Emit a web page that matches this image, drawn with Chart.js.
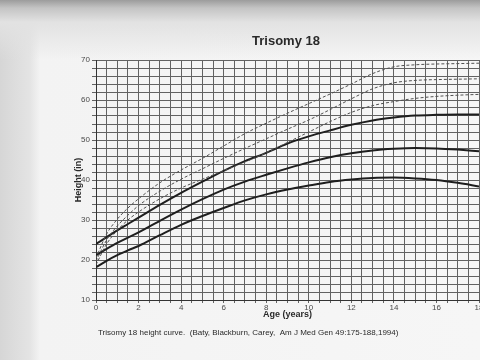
<!DOCTYPE html>
<html>
<head>
<meta charset="utf-8">
<script src="https://cdn.jsdelivr.net/npm/chart.js@4"></script>
<style>
    html, body {
        margin: 0;
        padding: 0;
    }
    body {
        width: 480px;
        height: 360px;
        overflow: hidden;
        background:
            linear-gradient(to bottom, #9c9c9c 0px, #c4c4c4 8px, #e2e2e2 22px, rgba(240,240,240,0) 60px),
            linear-gradient(to right, #d6d6d6 0px, #e4e4e4 30px, #f3f3f3 40px, #f6f6f6 100%);
    }
    #chart {
        display: block;
    }
</style>
</head>
<body>
<canvas id="chart" width="480" height="360"></canvas>
<script>
'use strict'

// age in years, heights in inches
let ages = [0, 0.5, 1, 1.5, 2, 3, 4, 5, 6, 7, 8, 9, 10, 11, 12, 13, 14, 15, 16, 17, 18],
    // trisomy 18 curves (solid)
    t18High = [24, 25.7, 27.4, 29, 30.6, 33.8, 36.8, 39.6, 42.3, 44.7, 46.8, 49.1, 50.9, 52.4, 53.8, 54.9, 55.6, 56.1, 56.3, 56.4, 56.4],
    t18Mid = [21.2, 22.8, 24.3, 25.6, 26.9, 29.8, 32.6, 35.2, 37.6, 39.6, 41.3, 42.9, 44.4, 45.7, 46.7, 47.4, 47.8, 48, 47.9, 47.6, 47.2],
    t18Low = [18.2, 19.8, 21.2, 22.4, 23.5, 26.2, 28.8, 31, 33, 34.9, 36.4, 37.6, 38.6, 39.5, 40.1, 40.5, 40.6, 40.4, 40, 39.3, 38.4],
    // normal reference curves (dashed)
    normHigh = [20.5, 26.5, 30.2, 33, 35.3, 39.3, 42.5, 45.4, 48.5, 51.6, 54.2, 56.7, 59.1, 61.5, 64, 66.6, 68.3, 68.8, 69, 69.1, 69.2],
    normMid = [19.7, 25, 28.5, 31.2, 33.6, 37.2, 40.2, 42.8, 45.4, 47.9, 50.3, 52.7, 55, 57.6, 60.3, 62.8, 64.3, 64.9, 65.1, 65.2, 65.3],
    normLow = [18.8, 24, 27.4, 30, 32, 35.3, 38, 40.2, 42.3, 44.5, 46.8, 49.4, 52, 54.6, 56.9, 58.6, 59.6, 60.4, 60.9, 61.2, 61.4],
    xLabelEvery = 2,
    yLabelEvery = 10,
    myChart

let fontFamily = "'Liberation Sans', Arial, sans-serif"
let gridColor = '#626262'

let points = function (values) {
    return values.map((v, i) => ({x: ages[i], y: v}))
}

let solid = function (values) {
    return {
        data: points(values),
        borderColor: '#1e1e1e',
        borderWidth: 2,
        pointRadius: 0,
        cubicInterpolationMode: 'monotone',
        fill: false
    }
}

let dashed = function (values) {
    return {
        data: points(values),
        borderColor: '#505050',
        borderWidth: 1,
        borderDash: [3, 2],
        pointRadius: 0,
        cubicInterpolationMode: 'monotone',
        fill: false
    }
}

// title and citation printed on the paper
let paperText = {
    id: 'paperText',
    afterDraw(chart) {
        let ctx = chart.ctx
        ctx.save()
        ctx.fillStyle = '#2a2a2a'
        ctx.textBaseline = 'middle'
        ctx.textAlign = 'center'
        ctx.font = 'bold 13px ' + fontFamily
        ctx.fillText('Trisomy 18', 286, 41)
        ctx.textAlign = 'left'
        ctx.font = '8px ' + fontFamily
        ctx.fillText('Trisomy 18 height curve.  (Baty, Blackburn, Carey,  Am J Med Gen 49:175-188,1994)', 98, 333)
        ctx.restore()
    }
}

let config = {
    type: 'line',
    data: {
        datasets: [
            dashed(normHigh),
            dashed(normMid),
            dashed(normLow),
            solid(t18High),
            solid(t18Mid),
            solid(t18Low)
        ]
    },
    options: {
        responsive: false,
        animation: false,
        layout: {
            padding: {left: 69, right: 1, top: 60, bottom: 36}
        },
        plugins: {
            legend: {display: false},
            tooltip: {enabled: false}
        },
        scales: {
            x: {
                type: 'linear',
                min: 0,
                max: 18,
                afterFit(scale) {
                    scale.height = 24
                    scale.paddingLeft = 0
                    scale.paddingRight = 0
                },
                grid: {color: gridColor, lineWidth: 1, tickLength: 3},
                border: {color: '#333', width: 1},
                ticks: {
                    stepSize: 0.5,
                    autoSkip: false,
                    maxRotation: 0,
                    padding: 0,
                    color: '#4a4a4a',
                    font: {family: fontFamily, size: 8},
                    callback: (v) => v % xLabelEvery === 0 ? v : ''
                },
                title: {
                    display: true,
                    text: 'Age (years)',
                    color: '#2a2a2a',
                    padding: {top: 0, bottom: 4},
                    font: {family: fontFamily, size: 9, weight: 'bold'}
                }
            },
            y: {
                min: 10,
                max: 70,
                afterFit(scale) {
                    scale.width = 27
                    scale.paddingTop = 0
                    scale.paddingBottom = 0
                },
                grid: {color: gridColor, lineWidth: 1, tickLength: 4},
                border: {color: '#333', width: 1},
                ticks: {
                    stepSize: 2,
                    autoSkip: false,
                    padding: 2,
                    color: '#4a4a4a',
                    font: {family: fontFamily, size: 8},
                    callback: (v) => v % yLabelEvery === 0 ? v : ''
                },
                title: {
                    display: true,
                    text: 'Height (in)',
                    color: '#2a2a2a',
                    padding: {top: 4, bottom: 0},
                    font: {family: fontFamily, size: 9, weight: 'bold'}
                }
            }
        }
    },
    plugins: [paperText]
}

myChart = new Chart(document.getElementById('chart'), config)
</script>
</body>
</html>
